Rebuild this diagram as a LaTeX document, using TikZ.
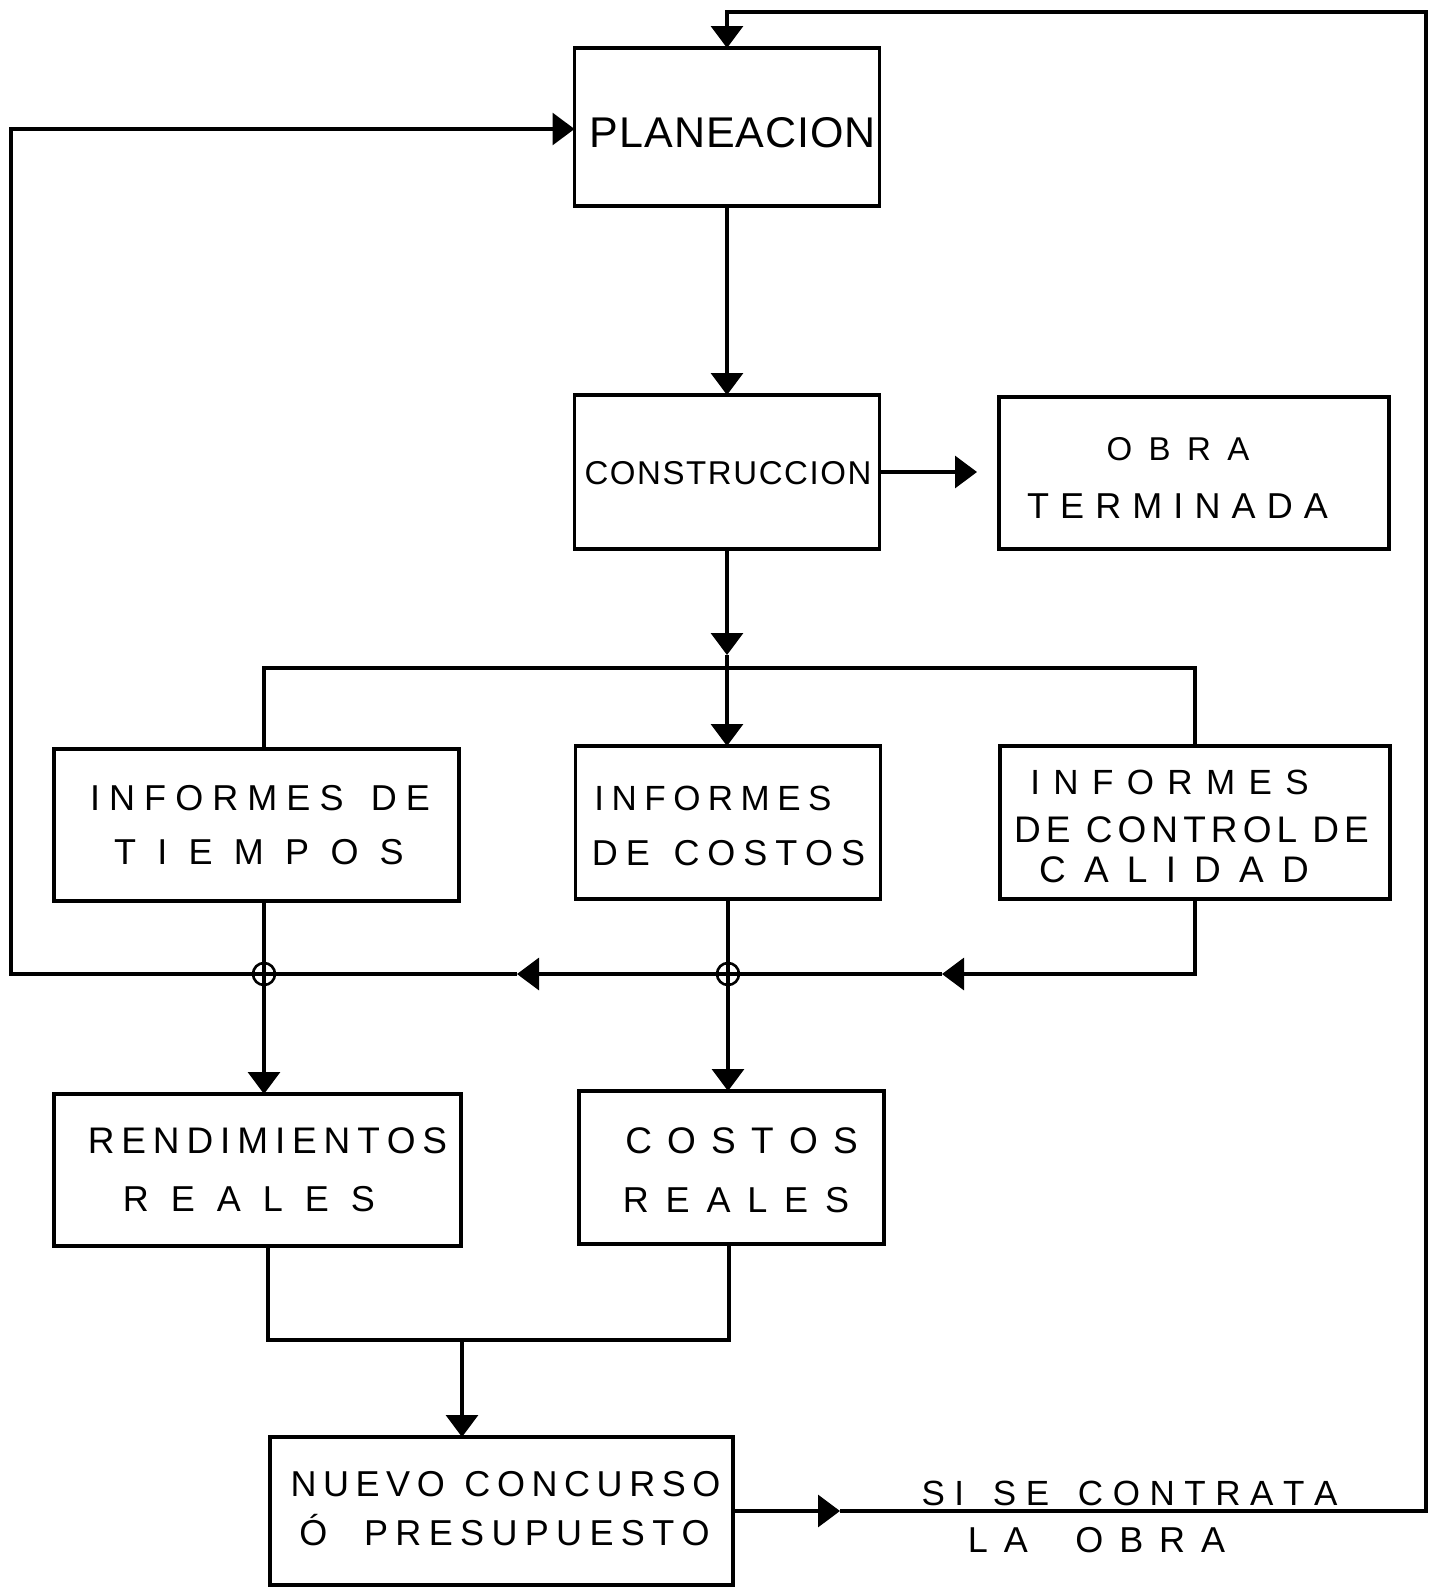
\documentclass[tikz,border=0pt]{standalone}
\usepackage{fontspec}
\setmainfont{Liberation Sans}
\usetikzlibrary{arrows.meta}

% Spread the letters of a word evenly over a given width;
% "|" marks a wider gap between words.
\ExplSyntaxOn
\NewDocumentCommand\spreadletters{m}
  { \tl_map_inline:nn {#1} { \str_if_eq:nnTF {##1} {|} { \hfil\hfil } { ##1 \hfil } } \unskip }
\ExplSyntaxOff

% name, x, baseline y, width, font size, text
\newcommand\lettering[6]{%
  \node[lettering, anchor=base west] (#1) at (#2,#3)
    {\fontsize{#5}{#5}\selectfont\makebox[#4pt]{\spreadletters{#6}}};}

\tikzset{
  box/.style={draw, rectangle, line width=3.6pt, inner sep=0pt, outer sep=0pt},
  link/.style={line width=3.2pt},
  lettering/.style={inner sep=0pt, outer sep=0pt},
  junction/.style={draw, circle, line width=2.6pt, minimum size=22pt, inner sep=0pt},
}

\begin{document}
\begin{tikzpicture}[x=1pt, y=-1pt, >={Triangle[length=22pt,width=32pt]}]
\fill[white] (0,0) rectangle (1428,1588);
\useasboundingbox (0,0) rectangle (1428,1588);

% boxes
\node[box, minimum width=305pt, minimum height=158pt] (plan) at (727,127) {};
\node[box, minimum width=305pt, minimum height=154pt] (cons) at (727,472) {};
\node[box, minimum width=390pt, minimum height=152pt] (obra) at (1194,473) {};
\node[box, minimum width=405pt, minimum height=152pt] (it)   at (256.5,825) {};
\node[box, minimum width=305pt, minimum height=153pt] (ic)   at (728,822.5) {};
\node[box, minimum width=390pt, minimum height=153pt] (icc)  at (1195,822.5) {};
\node[box, minimum width=407pt, minimum height=152pt] (rr)   at (257.5,1170) {};
\node[box, minimum width=305pt, minimum height=153pt] (cr)   at (731.5,1167.5) {};
\node[box, minimum width=463pt, minimum height=148pt] (nc)   at (501.5,1511) {};

% routing points
\coordinate (topR) at (1426,12);
\coordinate (botR) at (1426,1511);
\coordinate (retTip) at (840,1511);
\coordinate (leftX) at (11,974);
\coordinate (leftTop) at (11,129);
\coordinate (consTip) at (727,655);
\coordinate (brL) at (264,668);
\coordinate (brM) at (727,668);
\coordinate (brR) at (1195,668);
\coordinate (jL) at (264,974);
\coordinate (jM) at (728,974);
\coordinate (jR) at (1195,974);
\coordinate (arrA) at (942,974);
\coordinate (arrB) at (517,974);
\coordinate (mL) at (268,1340);
\coordinate (mC) at (462,1340);
\coordinate (mR) at (729,1340);

% connectors
\draw[link,->] (plan.south) -- (cons.north);
\draw[link,->,shorten >=22pt] (cons.east) -- (cons.east -| obra.west);
\draw[link,->] (cons.south) -- (consTip);
\draw[link] (consTip) -- (brM);
\draw[link] (brL |- it.north) -- (brL) -- (brR) -- (brR |- icc.north);
\draw[link,->] (brM) -- (brM |- ic.north);
\draw[link,->] (brR |- icc.south) -- (jR) -- (arrA);
\draw[link,->] (arrA) -- (arrB);
\draw[link,->] (arrB) -- (leftX) -- (leftTop) -- (leftTop -| plan.west);
\draw[link,->] (jL |- it.south) -- (jL |- rr.north);
\draw[link,->] (jM |- ic.south) -- (jM |- cr.north);
\draw[link] (mL |- rr.south) -- (mL) -- (mR) -- (mR |- cr.south);
\draw[link,->] (mC) -- (mC |- nc.north);
\draw[link,->] (nc.east |- retTip) -- (retTip);
\draw[link,->] (retTip) -- (botR) -- (topR) -| (plan.north);

% crossing marks
\node[junction] (circL) at (jL) {};
\node[junction] (circM) at (jM) {};

% lettering
\lettering{tPlan}{589}{147}{288}{43}{PLANEACION}
\lettering{tCons}{583}{484}{290}{33}{CONSTRUCCION}
\lettering{tObraA}{1090}{460}{176}{33}{OBRA}
\lettering{tObraB}{1016}{518}{323}{36}{TERMINADA}
\lettering{tItA}{81}{810}{358}{36}{INFORMES|DE}
\lettering{tItB}{93}{864}{332}{36}{TIEMPOS}
\lettering{tIcA}{587}{810}{252}{35}{INFORMES}
\lettering{tIcB}{584}{865}{289}{36}{DE|COSTOS}
\lettering{tIccA}{1017}{794}{305}{35}{INFORMES}
\lettering{tIccB}{1009}{842}{365}{37}{DE|CONTROL|DE}
\lettering{tIccC}{1021}{882}{306}{37}{CALIDAD}
\lettering{tRrA}{81}{1153}{373}{37}{RENDIMIENTOS}
\lettering{tRrB}{101}{1211}{296}{36}{REALES}
\lettering{tCrA}{610}{1153}{263}{37}{COSTOS}
\lettering{tCrB}{606}{1212}{260}{36}{REALES}
\lettering{tNcA}{284}{1496}{443}{36}{NUEVO|CONCURSO}
\lettering{tNcB}{292}{1545}{425}{36}{Ó||PRESUPUESTO}
\lettering{tSiA}{912}{1505}{435}{35}{SI|SE|CONTRATA}
\lettering{tSiB}{952}{1552}{289}{36}{LA|OBRA}
\end{tikzpicture}
\end{document}
